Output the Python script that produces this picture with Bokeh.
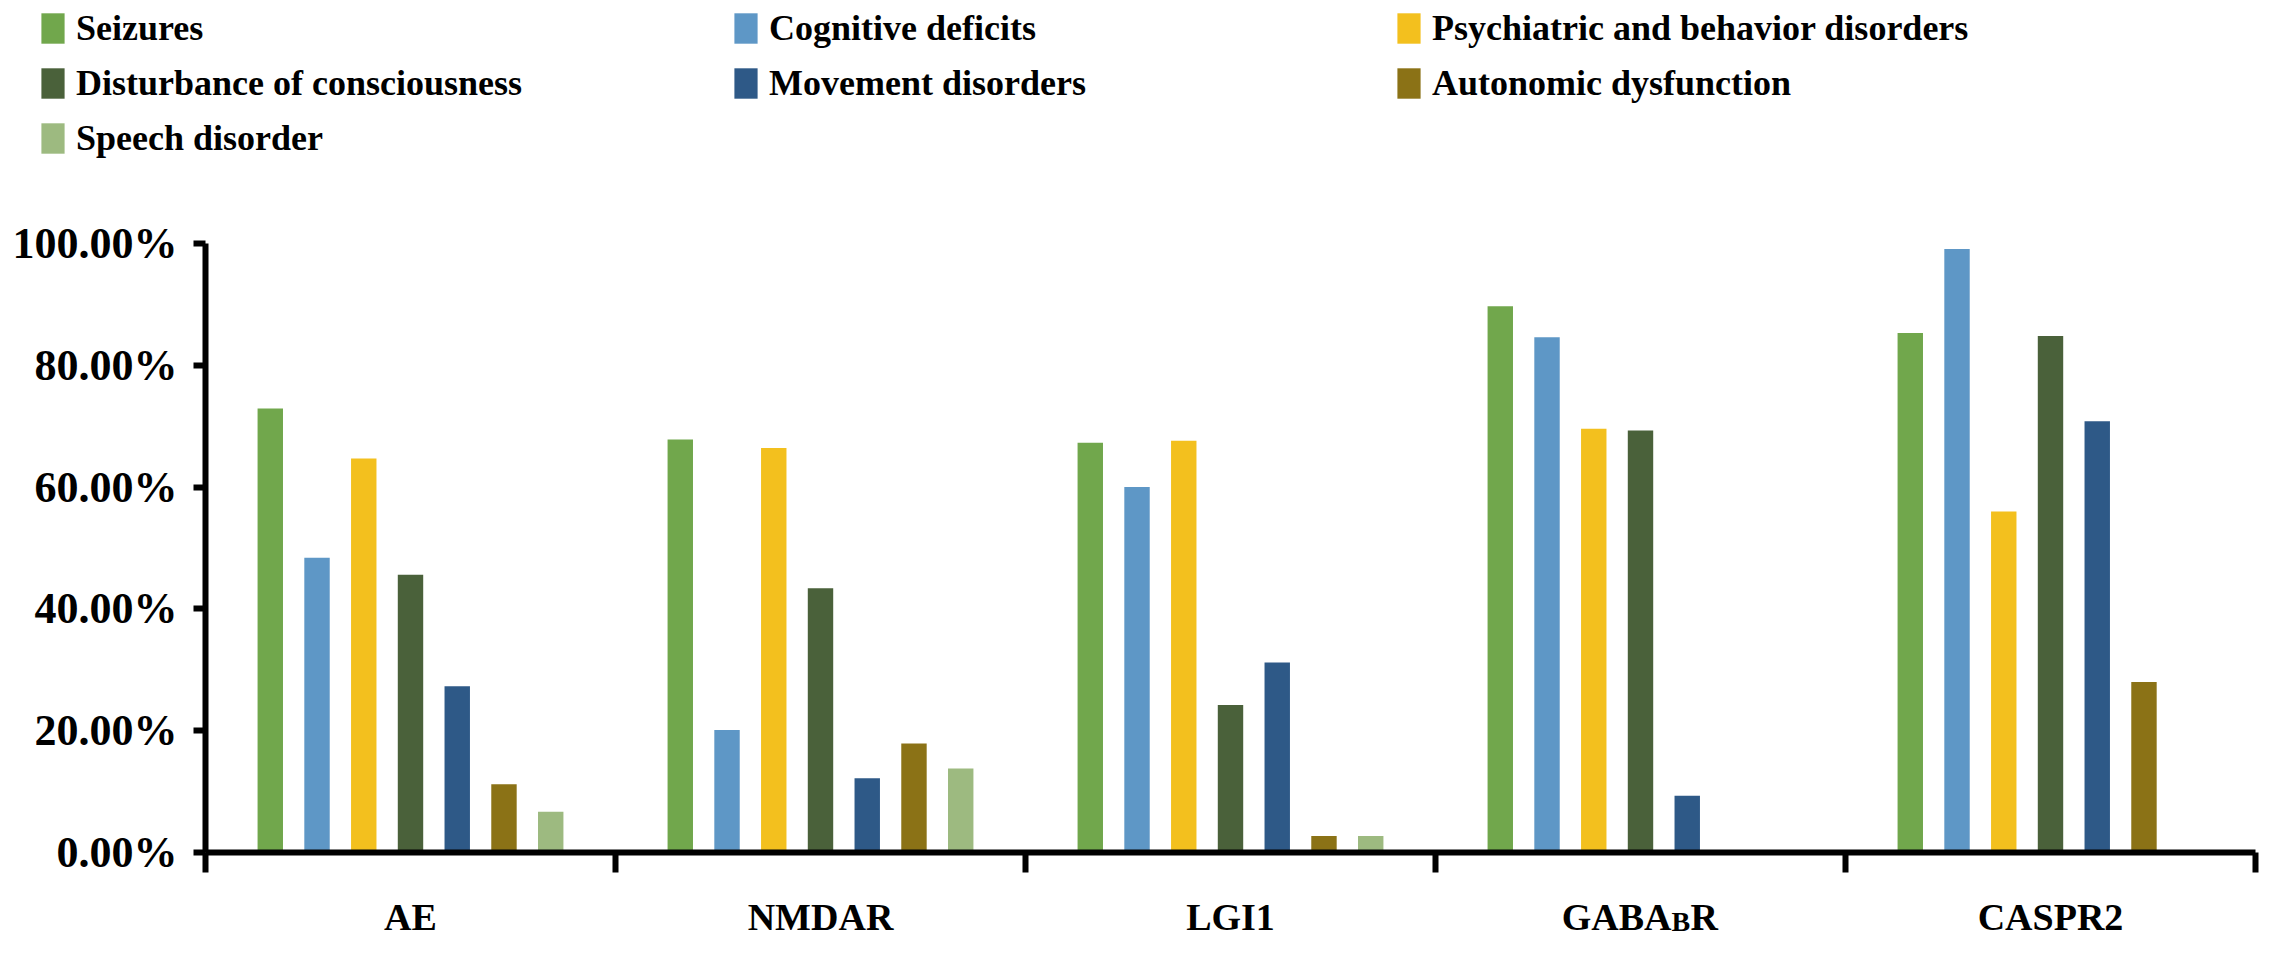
import numpy as np
from bokeh.plotting import figure
from bokeh.layouts import column
from bokeh.models import (Range1d, LinearAxis, FixedTicker, PrintfTickFormatter,
                          Legend, LegendItem, ColumnDataSource)
from bokeh.core.properties import value
from bokeh.embed import file_html
from bokeh.resources import INLINE

# ---------------- data ----------------
categories = ["AE", "NMDAR", "LGI1", "GABABR", "CASPR2"]
series = ["Seizures", "Cognitive deficits", "Psychiatric and behavior disorders",
          "Disturbance of consciousness", "Movement disorders",
          "Autonomic dysfunction", "Speech disorder"]
seizures = [72.9, 67.8, 67.3, 89.7, 85.3]
cognitive = [48.4, 20.1, 60.0, 84.6, 99.1]
psychiatric = [64.7, 66.4, 67.6, 69.6, 56.0]
disturbance = [45.6, 43.4, 24.2, 69.3, 84.8]
movement = [27.3, 12.2, 31.2, 9.3, 70.8]
autonomic = [11.2, 17.9, 2.7, 0.0, 28.0]
speech = [6.7, 13.8, 2.7, 0.0, 0.0]
y_ticks = [0, 20, 40, 60, 80, 100]

values = [seizures, cognitive, psychiatric, disturbance, movement, autonomic, speech]
colors = ["#71A74C", "#5E97C6", "#F3C01E", "#4A613A", "#2E5987", "#8B7216", "#9DBA80"]

FONT = "Liberation Serif"
W = 2260
LEFT, RIGHT = 205, 5

def bare_fig(h, **kw):
    f = figure(width=W, height=h, output_backend="svg", toolbar_location=None,
               x_axis_location=None, y_axis_location=None, **kw)
    f.grid.visible = False
    f.outline_line_color = None
    f.background_fill_color = "white"
    f.border_fill_color = "white"
    return f

# ---------------- main chart ----------------
p = bare_fig(683, x_range=Range1d(0, 5), y_range=Range1d(0, 100),
             min_border_left=LEFT, min_border_right=RIGHT,
             min_border_top=48, min_border_bottom=26)

yaxis = LinearAxis(ticker=FixedTicker(ticks=y_ticks),
                   formatter=PrintfTickFormatter(format="%.2f%%"),
                   axis_line_width=6, axis_line_color="black",
                   major_tick_line_width=6, major_tick_out=12, major_tick_in=0,
                   minor_tick_out=0, minor_tick_in=0,
                   major_label_text_font=FONT, major_label_text_font_style="bold",
                   major_label_text_font_size="44px", major_label_text_color="black",
                   major_label_standoff=16)
p.add_layout(yaxis, "left")

xaxis = LinearAxis(ticker=FixedTicker(ticks=list(range(len(categories) + 1))),
                   major_label_overrides={i: "" for i in range(len(categories) + 1)},
                   major_label_text_alpha=0, major_label_text_font_size="1px",
                   major_label_standoff=0,
                   axis_line_width=6, axis_line_color="black",
                   major_tick_line_width=6, major_tick_out=20, major_tick_in=0,
                   minor_tick_out=0, minor_tick_in=0)
p.add_layout(xaxis, "below")

n = len(series)
step = 0.114
width = 0.062
centers = np.arange(len(categories)) + 0.5
renderers = []
for k, (name, vals, col) in enumerate(zip(series, values, colors)):
    src = ColumnDataSource(dict(x=centers + (k - (n - 1) / 2) * step, top=vals))
    r = p.vbar(x="x", top="top", bottom=0, width=width, source=src,
               fill_color=col, line_color=None)
    renderers.append(r)

# ---------------- legend strip ----------------
LH = 195
lg_fig = bare_fig(LH, x_range=Range1d(0, 1), y_range=Range1d(0, 1),
                  min_border_left=0, min_border_right=0, min_border_top=0, min_border_bottom=0,
                  frame_align=False)
dummy = []
for name, col in zip(series, colors):
    # stand-in renderers lying outside the visible range: only their legend swatches show
    dummy.append(lg_fig.vbar(x=[-10], top=[-5], bottom=[-6], width=0.1,
                             fill_color=col, line_color=None))

def make_legend(idx, loc):
    lg = Legend(items=[LegendItem(label=series[i], renderers=[dummy[i]]) for i in idx],
                location=loc, orientation="vertical",
                glyph_width=29, glyph_height=38, label_height=27,
                label_standoff=9, spacing=13, padding=0, margin=0,
                label_text_font=FONT, label_text_font_style="bold",
                label_text_font_size="36px", label_text_color="black",
                background_fill_alpha=0, border_line_color=None)
    lg_fig.add_layout(lg)

make_legend([0, 3, 6], (38, 36))
make_legend([1, 4], (731, 91))
make_legend([2, 5], (1394, 91))

# ---------------- category labels strip ----------------
BH = 61
lab = bare_fig(BH, x_range=p.x_range, y_range=Range1d(0, BH),
               min_border_left=LEFT, min_border_right=RIGHT, min_border_top=0, min_border_bottom=0)
plain = [c for c in categories if c != "GABABR"]
plain_x = [centers[categories.index(c)] for c in plain]
txt_kw = dict(text_font=value(FONT), text_font_style="bold", text_color="black",
              text_baseline="middle")
LY = 23
lab.text(x=plain_x, y=[LY] * len(plain), text=plain, text_align="center",
         text_font_size="38px", **txt_kw)
gx = centers[categories.index("GABABR")]
lab.text(x=[gx], y=[LY], text=["GABA"], text_align="right", x_offset=31,
         text_font_size="38px", **txt_kw)
lab.text(x=[gx], y=[LY], text=["B"], text_align="left", x_offset=31, y_offset=5,
         text_font_size="28px", **txt_kw)
lab.text(x=[gx], y=[LY], text=["R"], text_align="left", x_offset=50,
         text_font_size="38px", **txt_kw)

layout = column(lg_fig, p, lab, spacing=0)
open("out.html", "w").write(file_html(layout, INLINE))
